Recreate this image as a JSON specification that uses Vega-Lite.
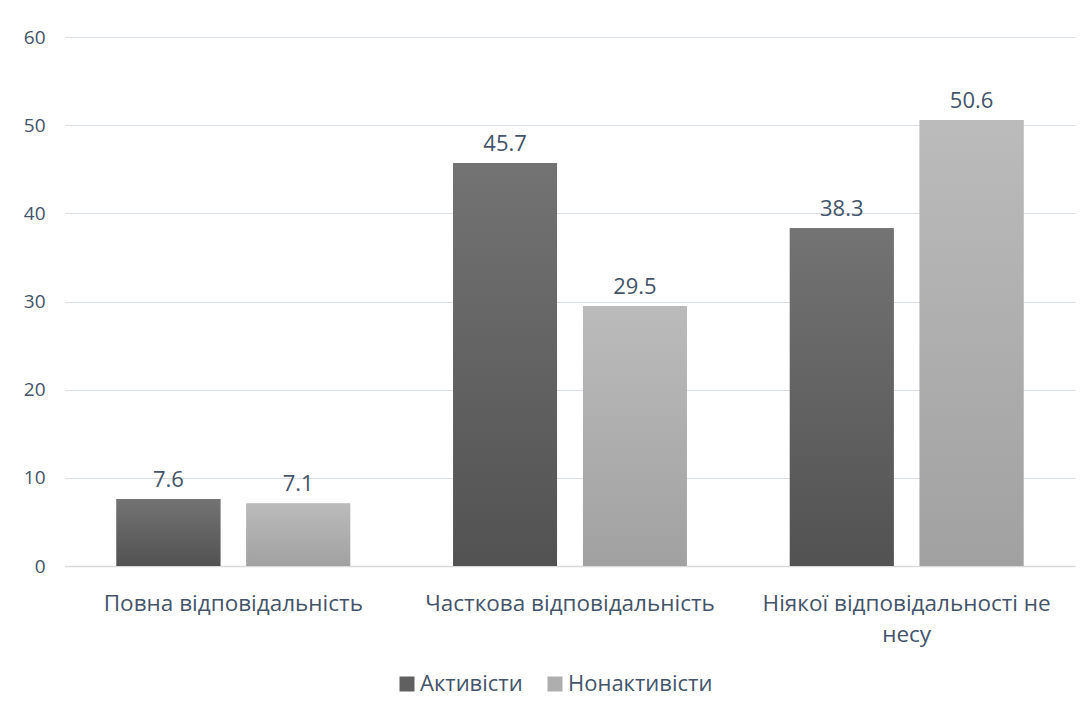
{
  "$schema": "https://vega.github.io/schema/vega-lite/v6.json",
  "autosize": {"type": "none"},
  "padding": {"left": 65, "top": 37, "right": 8, "bottom": 144},
  "width": 1010,
  "height": 529,
  "background": "white",
  "config": {
    "font": "Open Sans",
    "view": {"stroke": null},
    "axis": {"labelColor": "#44546A", "labelFont": "Open Sans", "titleColor": "#44546A"}
  },
  "data": {
    "values": [
      {"category": "Повна відповідальність", "series": "Активісти", "value": 7.6},
      {"category": "Повна відповідальність", "series": "Нонактивісти", "value": 7.1},
      {"category": "Часткова відповідальність", "series": "Активісти", "value": 45.7},
      {"category": "Часткова відповідальність", "series": "Нонактивісти", "value": 29.5},
      {"category": "Ніякої відповідальності не несу", "series": "Активісти", "value": 38.3},
      {"category": "Ніякої відповідальності не несу", "series": "Нонактивісти", "value": 50.6}
    ]
  },
  "encoding": {
    "x": {
      "field": "category",
      "type": "nominal",
      "sort": null,
      "title": null,
      "scale": {"paddingInner": 0.306, "paddingOuter": 0.153},
      "axis": {
        "labelAngle": 0,
        "labelFontSize": 22.5,
        "labelLimit": 0,
        "labelPadding": 26,
        "labelBaseline": "top",
        "labelLineHeight": 31,
        "ticks": false,
        "domainColor": "#D9D9D9",
        "domainWidth": 1.5,
        "labelExpr": "datum.label == 'Ніякої відповідальності не несу' ? ['Ніякої відповідальності не', 'несу'] : datum.label"
      }
    },
    "xOffset": {
      "field": "series",
      "type": "nominal",
      "sort": ["Активісти", "Нонактивісти"],
      "scale": {"domain": ["Активісти", "Нонактивісти"], "paddingInner": 0.2, "paddingOuter": 0}
    },
    "y": {
      "field": "value",
      "type": "quantitative",
      "title": null,
      "scale": {"domain": [0, 60], "nice": false},
      "axis": {
        "values": [0, 10, 20, 30, 40, 50, 60],
        "domain": false,
        "ticks": false,
        "labelFontSize": 19,
        "labelPadding": 20,
        "gridColor": "#D9DEE5",
        "gridWidth": 1.2
      }
    }
  },
  "layer": [
    {
      "mark": {"type": "bar"},
      "encoding": {
        "color": {
          "field": "series",
          "type": "nominal",
          "scale": {"domain": ["Активісти", "Нонактивісти"], "range": ["#606060", "#AEAEAE"]},
          "legend": {
            "title": null,
            "orient": "none",
            "legendX": 331,
            "legendY": 636,
            "direction": "horizontal",
            "symbolType": "square",
            "symbolSize": 225,
            "symbolStrokeWidth": 0,
            "labelFontSize": 22,
            "labelColor": "#44546A",
            "labelFont": "Open Sans",
            "labelOffset": 2,
            "columnPadding": 21,
            "symbolOffset": 0
          }
        }
      }
    },
    {
      "mark": {"type": "bar"},
      "encoding": {
        "color": {
          "condition": {
            "test": "datum.series === 'Активісти'",
            "value": {
              "gradient": "linear", "x1": 0, "y1": 0, "x2": 0, "y2": 1,
              "stops": [{"offset": 0, "color": "#737373"}, {"offset": 1, "color": "#525252"}]
            }
          },
          "value": {
            "gradient": "linear", "x1": 0, "y1": 0, "x2": 0, "y2": 1,
            "stops": [{"offset": 0, "color": "#BBBBBB"}, {"offset": 1, "color": "#A1A1A1"}]
          }
        }
      }
    },
    {
      "mark": {"type": "text", "baseline": "alphabetic", "dy": -12, "fontSize": 22, "color": "#44546A", "font": "Open Sans"},
      "encoding": {
        "text": {"field": "value", "type": "quantitative", "format": ".1f"}
      }
    }
  ]
}
